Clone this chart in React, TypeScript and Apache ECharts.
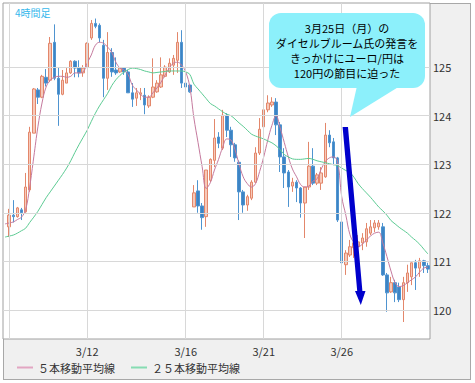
import React, { useEffect, useRef } from "react";
import * as echarts from "echarts";

// 4-hour candles (EUR/JPY)
const openV = [121.71,121.95,121.92,122.06,122.02,122.47,123.64,124.53,124.38,124.79,124.73,125.51,124.77,124.44,124.67,124.88,125.12,124.98,124.88,125.00,125.60,125.90,125.86,125.45,124.77,125.30,124.94,124.90,124.98,124.90,124.47,124.36,124.44,124.42,124.20,124.38,124.49,124.59,124.81,124.90,125.04,125.14,125.51,124.67,124.63,122.12,122.45,122.14,121.92,122.67,123.08,123.56,123.33,124.01,123.70,123.40,123.04,122.43,122.16,122.30,122.63,123.23,123.77,124.12,124.22,124.28,123.81,123.15,122.84,122.55,122.63,122.51,122.20,122.53,122.96,122.61,122.61,122.74,123.60,123.46,123.13,121.81,120.93,121.13,121.28,121.30,121.38,121.40,121.58,121.69,121.71,121.71,120.72,120.37,120.56,120.47,120.21,120.56,120.68,120.97,120.86,121.01,120.91];
const closeV = [121.95,121.92,122.10,122.00,122.53,123.66,124.55,124.38,124.81,124.67,125.49,124.77,124.44,124.73,124.88,125.12,124.98,124.88,124.98,125.49,125.90,125.84,125.60,124.77,125.30,124.90,124.88,124.98,124.90,124.47,124.34,124.47,124.47,124.22,124.38,124.59,124.67,124.84,125.00,125.08,125.18,125.51,124.67,124.59,124.49,122.41,122.14,121.90,122.88,123.10,123.54,123.43,124.01,123.70,123.40,123.13,122.43,122.16,122.33,122.63,123.23,123.72,124.12,124.26,124.28,123.81,123.15,122.82,122.53,122.63,122.51,122.20,122.53,122.96,122.61,122.78,122.82,123.60,123.44,123.13,121.85,120.97,121.17,121.30,121.38,121.40,121.48,121.67,121.71,121.79,121.79,120.72,120.35,120.56,120.35,120.21,120.56,120.76,120.97,120.86,121.01,120.91,120.84];
const lowV = [121.50,121.80,121.90,121.85,122.00,122.43,123.64,124.24,124.36,124.60,124.69,124.73,123.79,124.42,124.67,124.86,124.79,124.79,124.80,124.98,125.56,125.80,125.51,124.38,124.53,124.80,124.84,124.88,124.84,124.47,124.18,124.20,124.32,124.03,124.16,124.36,124.47,124.57,124.79,124.88,124.84,124.88,124.57,124.22,124.47,122.12,122.00,121.65,121.71,122.63,122.94,123.33,123.29,123.56,123.15,123.05,121.85,122.00,122.04,122.26,122.61,123.19,123.75,124.07,124.18,123.60,122.84,122.51,122.12,122.43,122.22,121.90,121.48,122.47,122.57,122.57,122.47,122.72,123.35,122.98,121.81,120.14,120.72,121.09,121.07,121.09,121.23,121.30,121.54,121.60,121.65,120.70,119.96,120.35,120.16,120.16,119.75,120.37,120.51,120.41,120.68,120.76,120.76];
const highV = [122.08,122.26,122.12,122.10,122.82,123.77,124.57,124.57,124.84,124.96,125.62,125.88,125.00,124.94,124.98,125.14,125.14,125.14,125.04,125.51,125.97,126.00,125.90,125.56,125.72,125.39,125.20,125.00,125.00,124.94,124.67,124.57,124.57,124.57,124.42,125.18,124.73,125.20,125.04,125.18,125.25,125.72,125.76,124.77,124.63,122.57,122.67,122.20,122.88,123.12,123.93,123.66,124.12,124.05,123.77,123.44,123.08,122.47,122.37,122.67,123.35,123.95,124.38,124.42,124.38,124.36,123.87,123.33,122.88,122.72,122.67,122.53,122.53,123.46,123.33,122.82,122.94,123.85,123.70,123.54,123.15,121.85,121.23,121.44,121.44,121.54,121.58,121.79,121.85,121.85,121.85,121.79,120.76,120.68,120.62,120.56,120.68,120.93,120.97,121.03,121.07,121.03,120.97];

// moving averages; first value is the line's start at the plot's left edge
const ma5 = [121.77,121.79,121.81,121.86,121.91,122.06,122.53,123.15,123.77,124.26,124.59,124.73,124.79,124.81,124.81,124.79,124.81,124.88,124.88,124.90,125.08,125.25,125.45,125.51,125.49,125.41,125.30,125.10,124.98,124.94,124.84,124.63,124.53,124.44,124.38,124.38,124.47,124.57,124.69,124.84,124.98,125.08,125.10,125.04,124.90,124.59,123.95,123.45,122.95,122.50,122.62,122.88,123.10,123.35,123.52,123.50,123.30,123.00,122.74,122.60,122.53,122.60,122.85,123.15,123.50,123.80,124.00,123.75,123.45,123.15,122.90,122.74,122.58,122.53,122.55,122.65,122.70,122.90,123.05,123.13,123.15,123.05,122.33,121.95,121.55,121.38,121.30,121.35,121.44,121.52,121.58,121.60,121.38,121.10,120.80,120.56,120.48,120.50,120.56,120.62,120.68,120.78,120.86,120.88];
const ma25 = [121.50,121.52,121.54,121.58,121.63,121.68,121.80,121.91,122.03,122.17,122.31,122.43,122.55,122.67,122.79,122.92,123.07,123.24,123.40,123.55,123.70,123.88,124.05,124.20,124.33,124.46,124.62,124.74,124.83,124.90,124.95,124.98,124.97,124.95,124.92,124.90,124.88,124.89,124.90,124.91,124.92,124.92,124.92,124.92,124.90,124.85,124.65,124.55,124.45,124.35,124.25,124.20,124.14,124.08,124.03,124.00,123.93,123.85,123.78,123.70,123.62,123.58,123.55,123.52,123.48,123.44,123.38,123.30,123.20,123.15,123.11,123.10,123.10,123.11,123.12,123.10,123.07,123.05,123.03,123.01,122.99,122.97,122.92,122.87,122.83,122.73,122.60,122.50,122.41,122.32,122.22,122.12,122.04,121.95,121.84,121.77,121.70,121.64,121.58,121.50,121.43,121.35,121.25,121.15];

// x tick labels at candle indices
const xLabelCandle = [19, 43, 62, 81];
const xLabelText = ["3/12", "3/16", "3/21", "3/26"];
const xGridCandle = [0, 19, 43, 62, 81];
const yTicks = [120, 121, 122, 123, 124, 125];

const seriesNames = ["５本移動平均線", "２５本移動平均線"];
const calloutLines = ["3月25日（月）の", "ダイセルブルーム氏の発言を", "きっかけにユーロ/円は", "120円の節目に迫った"];

const FONT = '"Noto Sans CJK JP", "Noto Sans", sans-serif';

export default function App() {
  const ref = useRef<HTMLDivElement>(null);
  useEffect(() => {
    if (!ref.current) return;
    const chart = echarts.init(ref.current, undefined, { renderer: "svg" });
    const n = openV.length + 1; // one leading empty slot
    const cats = Array.from({ length: n }, (_, i) => "c" + i);
    const candleData: any[] = ["-"].concat(
      openV.map((o, i) => [o, closeV[i], lowV[i], highV[i]]) as any
    );
    const labelIdx = xLabelCandle.map((i) => i + 1);
    const gridIdx = xGridCandle.map((i) => i + 1);
    const option: any = {
      animation: false,
      textStyle: { fontFamily: FONT },
      grid: {
        show: true,
        left: 3,
        top: 3,
        right: 45,
        bottom: 44,
        backgroundColor: "#ffffff",
        borderColor: "#a0a0a0",
        borderWidth: 1,
      },
      legend: {
        data: [
          { name: seriesNames[0], itemStyle: { color: "#e2a6c2" } },
          { name: seriesNames[1], itemStyle: { color: "#86dcb2" } },
        ],
        icon: "rect",
        itemWidth: 16,
        itemHeight: 2,
        itemGap: 16,
        left: 17,
        top: 362,
        padding: 0,
        selectedMode: false,
        textStyle: { fontSize: 11, color: "#333", fontFamily: FONT },
      },
      xAxis: {
        type: "category",
        data: cats,
        boundaryGap: true,
        axisLine: { show: false },
        axisTick: { show: false },
        splitLine: { show: false },
        axisLabel: {
          interval: (index: number) => labelIdx.includes(index),
          formatter: (_v: string, index: number) => {
            const k = labelIdx.indexOf(index);
            return k >= 0 ? xLabelText[k] : "";
          },
          margin: 6,
          color: "#333",
          fontSize: 11,
          fontFamily: FONT,
        },
      },
      yAxis: {
        type: "value",
        position: "right",
        min: 119.4,
        max: 126.32,
        axisLine: { show: false },
        axisTick: { show: false },
        splitLine: { show: false },
        axisLabel: {
          margin: 3,
          color: "#333",
          fontSize: 11,
          fontFamily: FONT,
          formatter: (v: number) =>
            yTicks.some((t) => Math.abs(t - v) < 1e-6) ? String(Math.round(v)) : "",
        },
      },
      series: [
        {
          name: "grid",
          type: "line",
          z: 1,
          data: cats.map(() => "-"),
          silent: true,
          markLine: {
            silent: true,
            symbol: "none",
            label: { show: false },
            lineStyle: { color: "#d8d8d8", width: 1, type: "solid" },
            emphasis: { disabled: true },
            data: [
              ...gridIdx.map((i) => ({ xAxis: i })),
              ...yTicks.map((v) => ({ yAxis: v })),
            ],
          },
        },
        {
          name: "candle",
          type: "candlestick",
          z: 3,
          data: candleData,
          barWidth: 3,
          itemStyle: {
            color: "#f7c9b9",
            color0: "#3d84c4",
            borderColor: "#e3876b",
            borderColor0: "#4f94d0",
            borderWidth: 1,
          },
        },
        {
          name: seriesNames[0],
          type: "line",
          z: 4,
          data: ma5,
          symbol: "none",
          smooth: 0.4,
          itemStyle: { color: "#c57a9e" },
          lineStyle: { color: "#c57a9e", width: 1 },
        },
        {
          name: seriesNames[1],
          type: "line",
          z: 4,
          data: ma25,
          symbol: "none",
          smooth: 0.3,
          itemStyle: { color: "#5ccb93" },
          lineStyle: { color: "#5ccb93", width: 1 },
        },
      ],
      graphic: [
        {
          type: "text",
          z: 100,
          x: 15,
          y: 12,
          style: {
            text: "4時間足",
            fill: "#35b8ec",
            fontSize: 10,
            fontFamily: FONT,
            textVerticalAlign: "middle",
          },
        },
        {
          type: "rect",
          z: 100,
          shape: { x: 269, y: 13, width: 156, height: 75, r: 12 },
          style: { fill: "#8cf0fb" },
        },
        {
          type: "polygon",
          z: 100,
          shape: { points: [[357, 86], [400, 86], [350, 117]] },
          style: { fill: "#8cf0fb" },
        },
        {
          type: "text",
          z: 101,
          x: 347,
          y: 20.5,
          style: {
            text: calloutLines.join("\n"),
            fill: "#000",
            fontSize: 11,
            lineHeight: 15,
            fontFamily: FONT,
            textAlign: "center",
            textVerticalAlign: "top",
          },
        },
        {
          type: "polygon",
          z: 100,
          shape: {
            points: [
              [342.6, 127],
              [348, 127],
              [362.4, 291],
              [365.5, 291],
              [360.8, 305],
              [355, 291],
              [357.2, 291],
            ],
          },
          style: { fill: "#0000cc" },
        },
      ],
    };
    chart.setOption(option);
    return () => chart.dispose();
  }, []);
  return (
    <div style={{ position: "fixed", left: 0, top: 0, width: 475, height: 383, background: "#fff" }}>
      <div
        style={{
          position: "absolute",
          left: 3,
          top: 3,
          width: 468,
          height: 377,
          boxSizing: "border-box",
          border: "1px solid #a8a8a8",
          background: "#f0f0f0",
        }}
      />
      <div ref={ref} style={{ position: "absolute", left: 0, top: 0, width: 475, height: 383 }} />
    </div>
  );
}
